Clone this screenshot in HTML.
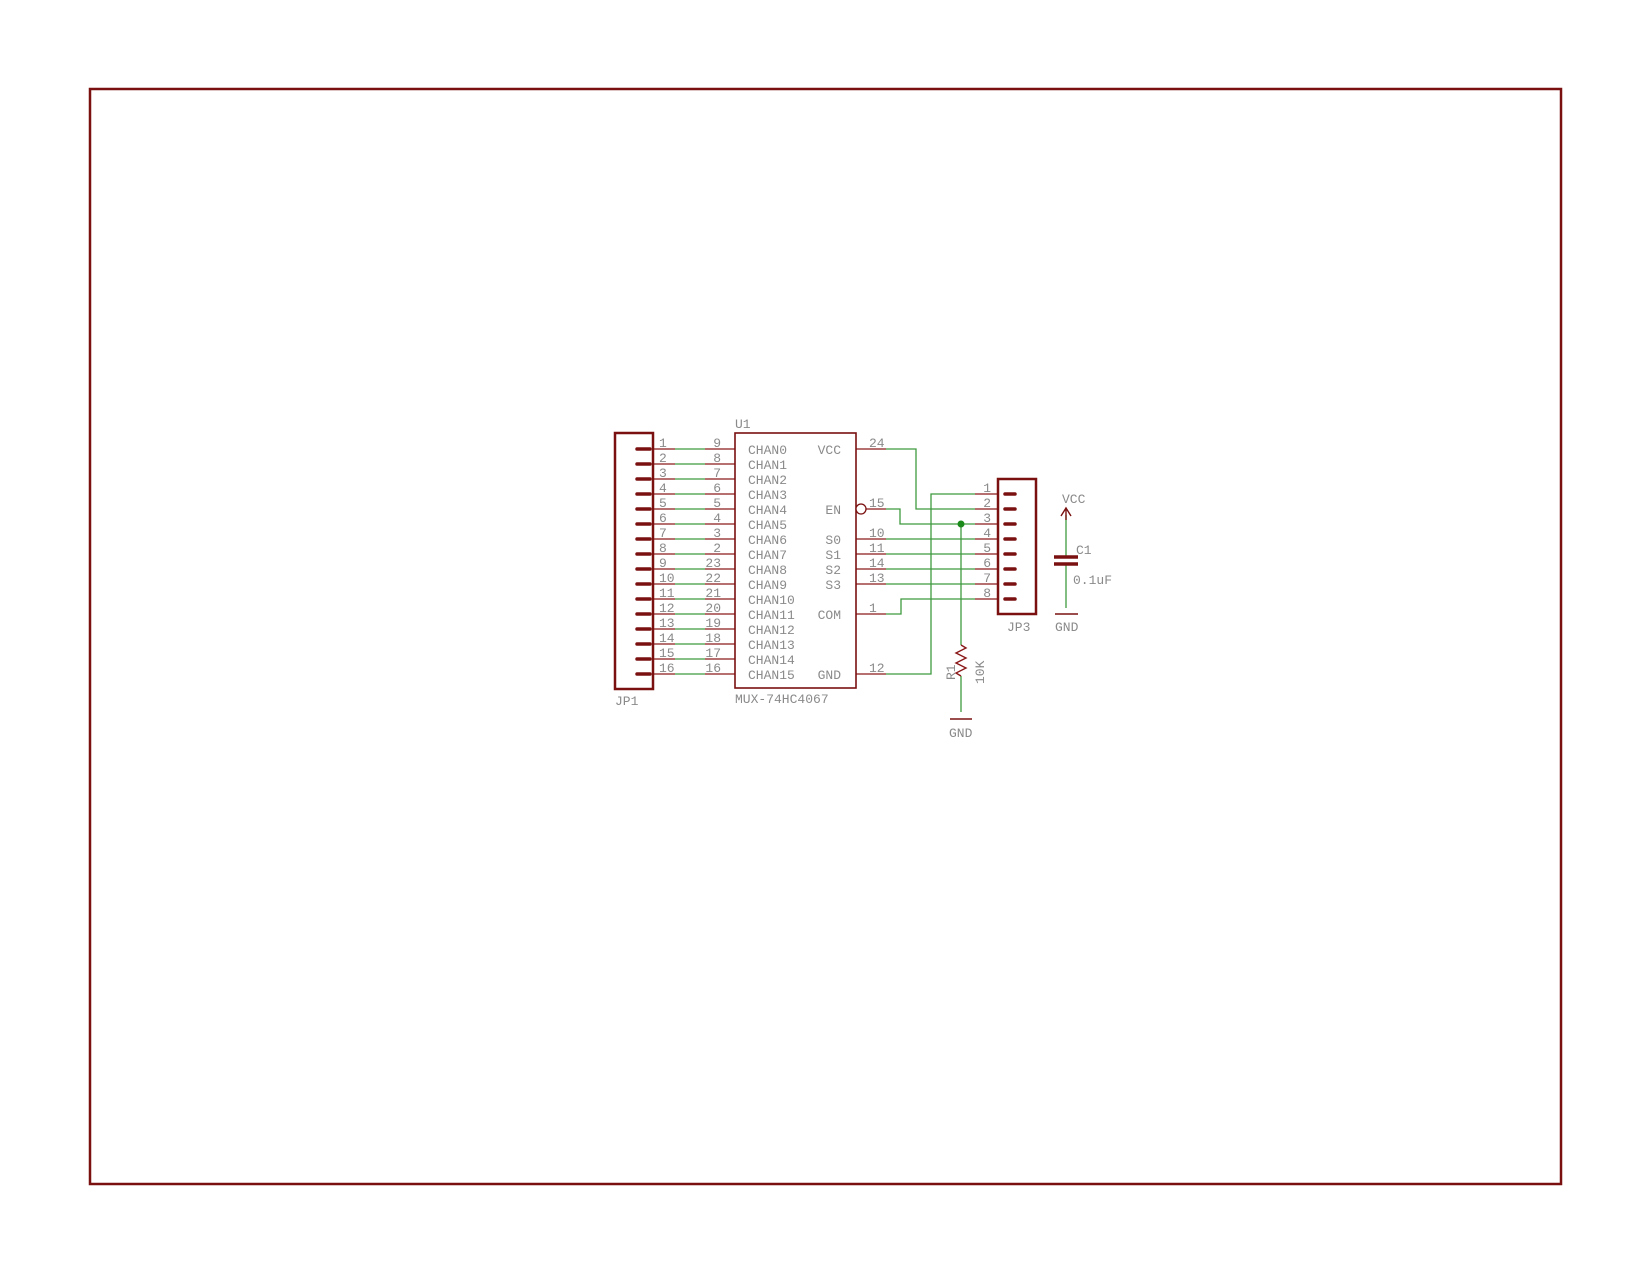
<!DOCTYPE html>
<html><head><meta charset="utf-8"><style>
html,body{margin:0;padding:0;background:#fff;width:1650px;height:1275px;overflow:hidden}
text{font-family:"Liberation Mono",monospace;fill:#8a8a8a;font-size:13px}
</style></head><body>
<svg width="1650" height="1275" xmlns="http://www.w3.org/2000/svg">
<rect x="90" y="89" width="1471" height="1095" fill="none" stroke="#7a1010" stroke-width="2.5"/>
<g stroke-width="1.3" fill="none">
<!-- JP1 to U1 wires -->
<g stroke="#8b1a1a">
<path d="M653 449H675M705 449H735M653 464H675M705 464H735M653 479H675M705 479H735M653 494H675M705 494H735M653 509H675M705 509H735M653 524H675M705 524H735M653 539H675M705 539H735M653 554H675M705 554H735M653 569H675M705 569H735M653 584H675M705 584H735M653 599H675M705 599H735M653 614H675M705 614H735M653 629H675M705 629H735M653 644H675M705 644H735M653 659H675M705 659H735M653 674H675M705 674H735"/>
<path d="M856 449H886M866 509H886M856 539H886M856 554H886M856 569H886M856 584H886M856 614H886M856 674H886"/>
<path d="M975 494H998M975 509H998M975 524H998M975 539H998M975 554H998M975 569H998M975 584H998M975 599H998"/>
</g>
<g stroke="#3f9a3f">
<path d="M675 449H705M675 464H705M675 479H705M675 494H705M675 509H705M675 524H705M675 539H705M675 554H705M675 569H705M675 584H705M675 599H705M675 614H705M675 629H705M675 644H705M675 659H705M675 674H705"/>
<path d="M886 449H916V509H975"/>
<path d="M886 509H900V524H975"/>
<path d="M886 539H975M886 554H975M886 569H975M886 584H975"/>
<path d="M886 614H901V599H975"/>
<path d="M886 674H931V494H975"/>
<path d="M961 524V645"/>
<path d="M961 676V712"/>
<path d="M1066 515V556M1066 565V608"/>
</g>
<circle cx="961" cy="524" r="3.5" fill="#1a8a1a" stroke="none"/>
</g>
<!-- JP1 -->
<rect x="615" y="433" width="38" height="256" fill="none" stroke="#7a1010" stroke-width="2.5"/>
<path d="M637 449H650M637 464H650M637 479H650M637 494H650M637 509H650M637 524H650M637 539H650M637 554H650M637 569H650M637 584H650M637 599H650M637 614H650M637 629H650M637 644H650M637 659H650M637 674H650" stroke="#7a1010" stroke-width="3.5" stroke-linecap="round"/>
<!-- U1 -->
<rect x="735" y="433" width="121" height="255" fill="none" stroke="#7a1010" stroke-width="1.6"/>
<circle cx="861" cy="509" r="5" fill="#fff" stroke="#7a1010" stroke-width="1.3"/>
<!-- JP3 -->
<rect x="998" y="479" width="38" height="135" fill="none" stroke="#7a1010" stroke-width="2.5"/>
<path d="M1005 494H1015M1005 509H1015M1005 524H1015M1005 539H1015M1005 554H1015M1005 569H1015M1005 584H1015M1005 599H1015" stroke="#7a1010" stroke-width="3.5" stroke-linecap="round"/>
<!-- Resistor -->
<path d="M961 645L966 648L956 653L966 658L956 663L966 668L956 673L961 676" fill="none" stroke="#8b1a1a" stroke-width="1.4"/>
<path d="M950 719H972" stroke="#7a1010" stroke-width="1.6"/>
<!-- Cap -->
<path d="M1066 508V520M1061 516L1066 508L1071 516" fill="none" stroke="#7a1010" stroke-width="1.4"/>
<path d="M1054 557H1078M1054 564H1078" stroke="#7a1010" stroke-width="3.5"/>
<path d="M1055 614H1078" stroke="#7a1010" stroke-width="1.6"/>
<!-- Labels -->
<text x="735" y="428">U1</text>
<text x="735" y="703">MUX-74HC4067</text>
<text x="615" y="705">JP1</text>
<g>
<text x="659" y="447">1</text><text x="659" y="462">2</text><text x="659" y="477">3</text><text x="659" y="492">4</text>
<text x="659" y="507">5</text><text x="659" y="522">6</text><text x="659" y="537">7</text><text x="659" y="552">8</text>
<text x="659" y="567">9</text><text x="659" y="582">10</text><text x="659" y="597">11</text><text x="659" y="612">12</text>
<text x="659" y="627">13</text><text x="659" y="642">14</text><text x="659" y="657">15</text><text x="659" y="672">16</text>
</g>
<g text-anchor="end">
<text x="721" y="447">9</text><text x="721" y="462">8</text><text x="721" y="477">7</text><text x="721" y="492">6</text>
<text x="721" y="507">5</text><text x="721" y="522">4</text><text x="721" y="537">3</text><text x="721" y="552">2</text>
<text x="721" y="567">23</text><text x="721" y="582">22</text><text x="721" y="597">21</text><text x="721" y="612">20</text>
<text x="721" y="627">19</text><text x="721" y="642">18</text><text x="721" y="657">17</text><text x="721" y="672">16</text>
</g>
<g>
<text x="748" y="454">CHAN0</text><text x="748" y="469">CHAN1</text><text x="748" y="484">CHAN2</text><text x="748" y="499">CHAN3</text>
<text x="748" y="514">CHAN4</text><text x="748" y="529">CHAN5</text><text x="748" y="544">CHAN6</text><text x="748" y="559">CHAN7</text>
<text x="748" y="574">CHAN8</text><text x="748" y="589">CHAN9</text><text x="748" y="604">CHAN10</text><text x="748" y="619">CHAN11</text>
<text x="748" y="634">CHAN12</text><text x="748" y="649">CHAN13</text><text x="748" y="664">CHAN14</text><text x="748" y="679">CHAN15</text>
</g>
<g text-anchor="end">
<text x="841" y="454">VCC</text><text x="841" y="514">EN</text><text x="841" y="544">S0</text><text x="841" y="559">S1</text>
<text x="841" y="574">S2</text><text x="841" y="589">S3</text><text x="841" y="619">COM</text><text x="841" y="679">GND</text>
</g>
<g>
<text x="869" y="447">24</text><text x="869" y="507">15</text><text x="869" y="537">10</text><text x="869" y="552">11</text>
<text x="869" y="567">14</text><text x="869" y="582">13</text><text x="869" y="612">1</text><text x="869" y="672">12</text>
</g>
<g text-anchor="end">
<text x="991" y="492">1</text><text x="991" y="507">2</text><text x="991" y="522">3</text><text x="991" y="537">4</text>
<text x="991" y="552">5</text><text x="991" y="567">6</text><text x="991" y="582">7</text><text x="991" y="597">8</text>
</g>
<text x="1007" y="631">JP3</text>
<text x="1055" y="631">GND</text>
<text x="1062" y="503">VCC</text>
<text x="1076" y="554">C1</text>
<text x="1073" y="584">0.1uF</text>
<text x="949" y="737">GND</text>
<text transform="translate(955,680) rotate(-90)">R1</text>
<text transform="translate(984,684) rotate(-90)">10K</text>
</svg>
</body></html>
